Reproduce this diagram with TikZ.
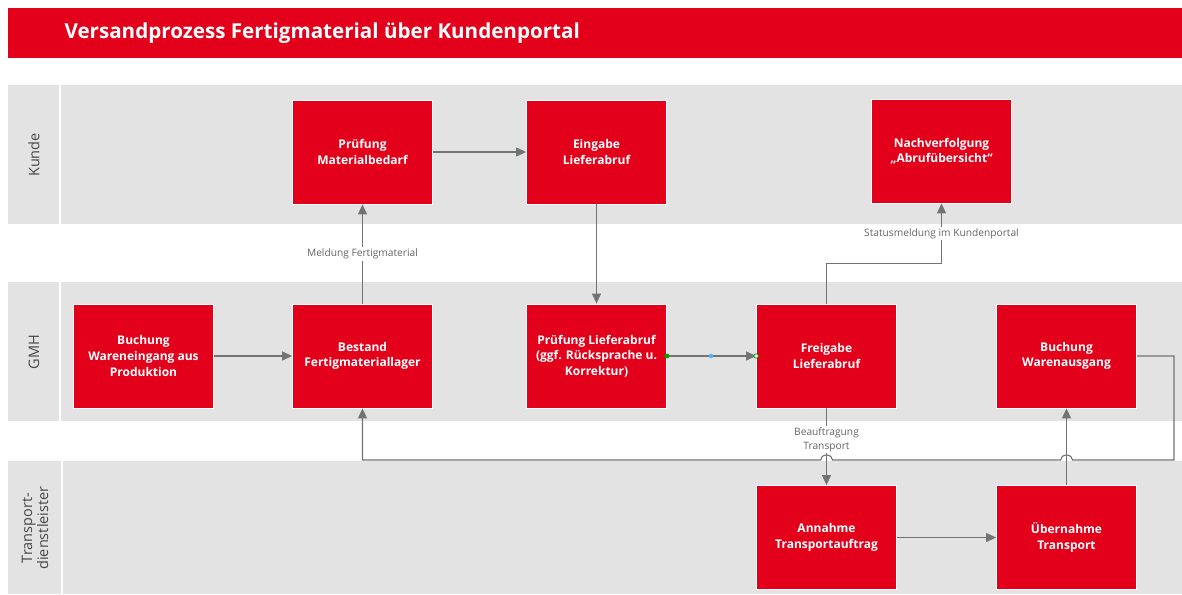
\documentclass[tikz,border=0pt]{standalone}
\usepackage{fontspec}
\setmainfont{Open Sans}
\usetikzlibrary{arrows.meta}

\definecolor{brandred}{HTML}{E2001A}
\definecolor{lanegray}{HTML}{E3E3E3}
\definecolor{linegray}{HTML}{737373}

\tikzset{
  task/.style={fill=brandred, draw=white, line width=0.8pt, minimum width=140pt,
    minimum height=104pt, inner sep=0pt, align=center, text=white,
    font=\fontsize{12}{15.6}\selectfont\bfseries},
  flow/.style={draw=linegray, line width=1.1pt, -{Triangle[length=10pt,width=9pt]}},
  note/.style={font=\fontsize{10.2}{13.5}\selectfont, text=black!60, fill=white,
    inner sep=1.5pt, align=center},
  lanelabel/.style={font=\fontsize{14.5}{16}\selectfont, text=black!72, rotate=90, align=center}
}

\begin{document}
\begin{tikzpicture}[x=1pt,y=-1pt]
\useasboundingbox (0,0) rectangle (1182,594);

% title bar
\fill[brandred] (8,8) rectangle (1182,58);
\node[anchor=west, text=white, font=\fontsize{20.6}{24}\selectfont\bfseries] (title) at (61,33.5)
  {Versandprozess Fertigmaterial über Kundenportal};

% swim lanes
\fill[lanegray] (8,85) rectangle (1182,224);
\fill[lanegray] (8,282) rectangle (1182,421);
\fill[lanegray] (8,461) rectangle (1182,594);
\draw[white, line width=1.5pt] (60,85) -- (60,224);
\draw[white, line width=1.5pt] (60,282) -- (60,421);
\draw[white, line width=1.5pt] (62,461) -- (62,594);

\node[lanelabel] (kunde) at (34,155) {Kunde};
\node[lanelabel] (gmh) at (34,352) {GMH};
\node[lanelabel] (transport) at (35,528) {Transport-\\dienstleister};

% tasks
\node[task] (pm) at (362.5,152) {Prüfung\\Materialbedarf};
\node[task] (el) at (596.5,152) {Eingabe\\Lieferabruf};
\node[task] (nv) at (941.5,151) {Nachverfolgung\\„Abrufübersicht“};

\node[task] (bw) at (143.5,356) {Buchung\\Wareneingang aus\\Produktion};
\node[task] (bf) at (362.5,356) {Bestand\\Fertigmateriallager};
\node[task] (pl) at (596.5,356) {Prüfung Lieferabruf\\(ggf. Rücksprache u.\\Korrektur)};
\node[task] (fl) at (826.5,356) {Freigabe\\Lieferabruf};
\node[task] (bwa) at (1066.5,356) {Buchung\\Warenausgang};

\node[task] (an) at (826.5,537.5) {Annahme\\Transportauftrag};
\node[task] (ub) at (1066.5,537.5) {Übernahme\\Transport};

% connectors
\draw[flow] (pm) -- (el);
\draw[flow] (el) -- (pl);
\draw[flow] (bw) -- (bf);
\draw[flow] (bf) -- node[note] {Meldung Fertigmaterial} (pm);
\draw[flow] (pl) -- (fl);
\draw[flow] (fl.north) -- ++(0,-40) -| node[note, pos=0.75] {Statusmeldung im Kundenportal} (nv.south);
\draw[flow] (fl) -- node[note, pos=0.41] {Beauftragung\\Transport} (an);
\draw[flow] (an) -- (ub);
\draw[flow] (ub) -- (bwa);

\coordinate (rturn) at (1174,460);
\draw[flow] (bwa.east) -| (rturn) -- (1072.5,460)
  arc[start angle=0, end angle=180, x radius=6pt, y radius=5pt] -- (832.5,460)
  arc[start angle=0, end angle=180, x radius=6pt, y radius=5pt] -- (362.5,460) -- (bf.south);

% selection handles
\fill[green!65!black] (pl.east) circle (2.5pt);
\fill[blue!45!cyan!70] (711,356) circle (2.2pt);
\draw[green!65!black, fill=white, line width=0.8pt] (fl.west) circle (2.2pt);
\end{tikzpicture}
\end{document}
